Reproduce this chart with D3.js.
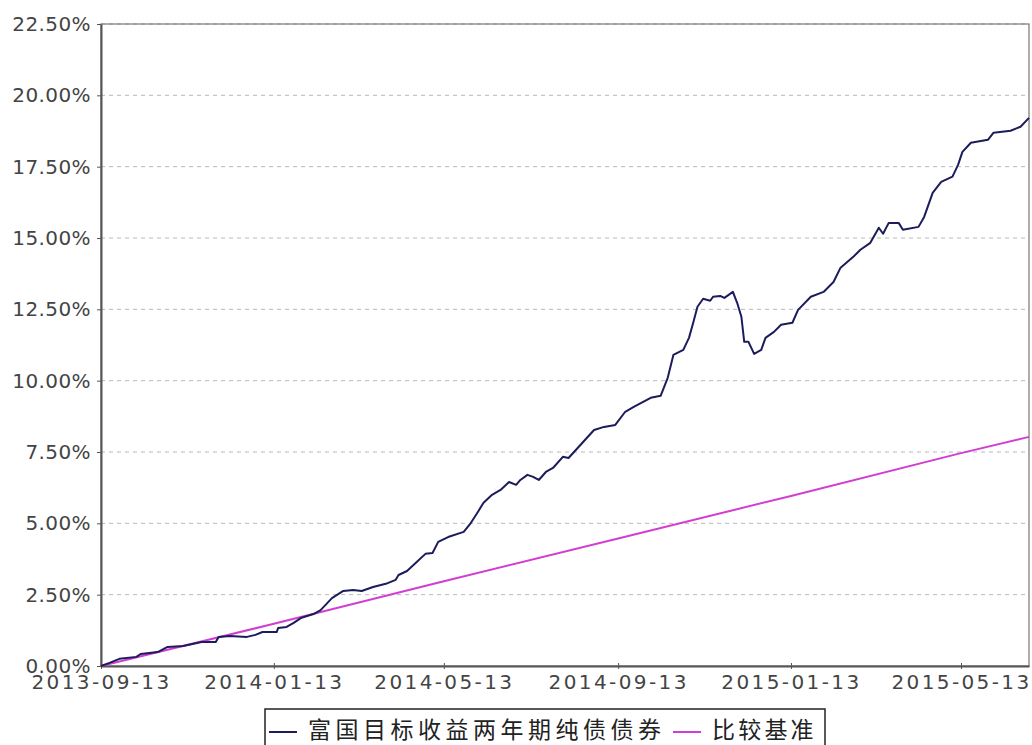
<!DOCTYPE html>
<html>
<head>
<meta charset="utf-8">
<script src="https://cdn.jsdelivr.net/npm/d3@7"></script>
<style>
  body { margin: 0; background: #fff; }
  .tick text { font-family: "DejaVu Sans", sans-serif; fill: #444; }
</style>
</head>
<body>
<script>
// series names
var seriesNames = ["富国目标收益两年期纯债债券", "比较基准"];
var seriesColors = ["#1c1c5c", "#d23ed2"];

// fund cumulative return (%)
var fundDates = [
  "2013-09-13","2013-09-19","2013-09-26","2013-10-08","2013-10-11","2013-10-23","2013-10-30","2013-11-10",
  "2013-11-23","2013-12-03","2013-12-05","2013-12-13","2013-12-25","2013-12-31","2014-01-05","2014-01-15",
  "2014-01-16","2014-01-22","2014-01-27","2014-02-01","2014-02-10","2014-02-15","2014-02-23","2014-03-03",
  "2014-03-10","2014-03-16","2014-03-24","2014-04-02","2014-04-09","2014-04-11","2014-04-17","2014-04-24",
  "2014-04-30","2014-05-05","2014-05-09","2014-05-16","2014-05-27","2014-06-01","2014-06-06","2014-06-10",
  "2014-06-16","2014-06-22","2014-06-28","2014-07-03","2014-07-06","2014-07-11","2014-07-15","2014-07-19",
  "2014-07-24","2014-07-29","2014-08-05","2014-08-09","2014-08-18","2014-08-27","2014-09-03","2014-09-11",
  "2014-09-18","2014-09-24","2014-10-06","2014-10-13","2014-10-18","2014-10-22","2014-10-29","2014-11-02",
  "2014-11-05","2014-11-08","2014-11-12","2014-11-17","2014-11-19","2014-11-24","2014-11-27","2014-12-03",
  "2014-12-06","2014-12-09","2014-12-11","2014-12-14","2014-12-18","2014-12-23","2014-12-26","2015-01-01",
  "2015-01-06","2015-01-14","2015-01-18","2015-01-27","2015-02-05","2015-02-12","2015-02-17","2015-02-26",
  "2015-03-03","2015-03-10","2015-03-16","2015-03-19","2015-03-23","2015-03-30","2015-04-02","2015-04-13",
  "2015-04-17","2015-04-23","2015-04-29","2015-05-07","2015-05-11","2015-05-14","2015-05-20","2015-06-01",
  "2015-06-05","2015-06-17","2015-06-24","2015-06-30"
];
var fundValues = [
  0.00, 0.11, 0.25, 0.32, 0.42, 0.49, 0.67, 0.70,
  0.84, 0.84, 1.02, 1.05, 1.02, 1.09, 1.19, 1.19,
  1.33, 1.37, 1.51, 1.68, 1.82, 1.96, 2.38, 2.63,
  2.66, 2.63, 2.77, 2.88, 3.02, 3.19, 3.33, 3.65,
  3.93, 3.96, 4.35, 4.52, 4.70, 5.01, 5.40, 5.72,
  6.00, 6.17, 6.45, 6.35, 6.52, 6.70, 6.63, 6.52,
  6.80, 6.94, 7.33, 7.29, 7.78, 8.27, 8.38, 8.45,
  8.91, 9.08, 9.40, 9.47, 10.10, 10.90, 11.08, 11.50,
  12.03, 12.59, 12.87, 12.80, 12.94, 12.97, 12.90, 13.11,
  12.73, 12.24, 11.36, 11.36, 10.94, 11.08, 11.50, 11.71,
  11.96, 12.03, 12.48, 12.94, 13.11, 13.46, 13.96, 14.34,
  14.59, 14.83, 15.36, 15.15, 15.53, 15.53, 15.29, 15.39,
  15.74, 16.58, 16.97, 17.15, 17.57, 18.02, 18.34, 18.44,
  18.69, 18.76, 18.90, 19.21
];

// benchmark (%) read at the tick dates
var benchDates = ["2013-09-13","2014-01-13","2014-05-13","2014-09-13","2015-01-13","2015-05-13","2015-06-30"];
var benchValues = [0.00, 1.48, 2.97, 4.47, 5.96, 7.46, 8.03];

// axis ticks
var xTickLabels = ["2013-09-13","2014-01-13","2014-05-13","2014-09-13","2015-01-13","2015-05-13"];
var yTickValues = [0, 2.5, 5, 7.5, 10, 12.5, 15, 17.5, 20, 22.5];
var xDomain = ["2013-09-13", "2015-06-30"];

var parse = d3.timeParse("%Y-%m-%d");

var margin = {top: 24, right: 3, bottom: 79, left: 101},
    width = 1032 - margin.left - margin.right,
    height = 745 - margin.top - margin.bottom;

var svg = d3.select("body")
  .append("svg")
    .attr("width", 1032)
    .attr("height", 745);

var g = svg.append("g")
    .attr("transform", "translate(" + margin.left + "," + margin.top + ")");

var x = d3.scaleTime()
  .domain(xDomain.map(parse))
  .range([0, width]);

var y = d3.scaleLinear()
  .domain([0, 22.5])
  .range([height, 0]);

// horizontal grid
g.append("g")
  .selectAll("line")
  .data(yTickValues.slice(1))
  .enter().append("line")
    .attr("x1", 0)
    .attr("x2", width)
    .attr("y1", function(d) { return y(d); })
    .attr("y2", function(d) { return y(d); })
    .attr("stroke", "#b8b8b8")
    .attr("stroke-width", 1)
    .attr("stroke-dasharray", "4,4");

// plot outline
g.append("rect")
  .attr("width", width)
  .attr("height", height)
  .attr("fill", "none")
  .attr("stroke", "#777")
  .attr("stroke-width", 1.2);

// X axis
var xAxis = g.append("g")
  .attr("transform", "translate(0," + height + ")")
  .call(d3.axisBottom(x)
    .tickValues(xTickLabels.map(parse))
    .tickFormat(d3.timeFormat("%Y-%m-%d"))
    .tickSizeInner(4)
    .tickSizeOuter(0)
    .tickPadding(8));
xAxis.select(".domain").attr("stroke", "#555").attr("stroke-width", 2);
xAxis.selectAll(".tick line").attr("stroke", "#555").attr("y1", -3).attr("y2", 3);
xAxis.selectAll(".tick text")
  .attr("font-size", 20)
  .attr("letter-spacing", 2.4)
  .attr("dy", "0.55em");

// Y axis
var yAxis = g.append("g")
  .call(d3.axisLeft(y)
    .tickValues(yTickValues)
    .tickFormat(function(d) { return d3.format(".2f")(d) + "%"; })
    .tickSizeInner(4)
    .tickSizeOuter(0)
    .tickPadding(6));
yAxis.select(".domain").attr("stroke", "#555").attr("stroke-width", 2);
yAxis.selectAll(".tick line").attr("stroke", "#555");
yAxis.selectAll(".tick text")
  .attr("font-size", 20)
  .attr("letter-spacing", 0.4);

// lines
var line = d3.line()
  .x(function(d) { return x(d.date); })
  .y(function(d) { return y(d.value); });

var fund = fundDates.map(function(d, i) { return {date: parse(d), value: fundValues[i]}; });
var bench = benchDates.map(function(d, i) { return {date: parse(d), value: benchValues[i]}; });

g.append("path")
  .datum(bench)
  .attr("fill", "none")
  .attr("stroke", seriesColors[1])
  .attr("stroke-width", 2)
  .attr("d", line);

g.append("path")
  .datum(fund)
  .attr("fill", "none")
  .attr("stroke", seriesColors[0])
  .attr("stroke-width", 2)
  .attr("stroke-linejoin", "round")
  .attr("d", line);

// legend (box runs off the bottom edge like the original)
var legend = svg.append("g")
  .attr("transform", "translate(265,709)");

legend.append("rect")
  .attr("width", 560)
  .attr("height", 44)
  .attr("fill", "#fff")
  .attr("stroke", "#222")
  .attr("stroke-width", 1.5);

var legendX = [4, 408];
var legendSpacing = [4.5, 3.2];
var legendItems = legend.selectAll(".item")
  .data(seriesNames)
  .enter().append("g")
    .attr("transform", function(d, i) { return "translate(" + legendX[i] + ",0)"; });

legendItems.append("line")
  .attr("x1", 0)
  .attr("x2", 28)
  .attr("y1", 23)
  .attr("y2", 23)
  .attr("stroke", function(d, i) { return seriesColors[i]; })
  .attr("stroke-width", 2);

legendItems.append("text")
  .attr("x", 39)
  .attr("y", 29)
  .attr("font-family", "Noto Sans CJK SC")
  .attr("font-size", 23)
  .attr("letter-spacing", function(d, i) { return legendSpacing[i]; })
  .attr("fill", "#222")
  .text(function(d) { return d; });
</script>
</body>
</html>
